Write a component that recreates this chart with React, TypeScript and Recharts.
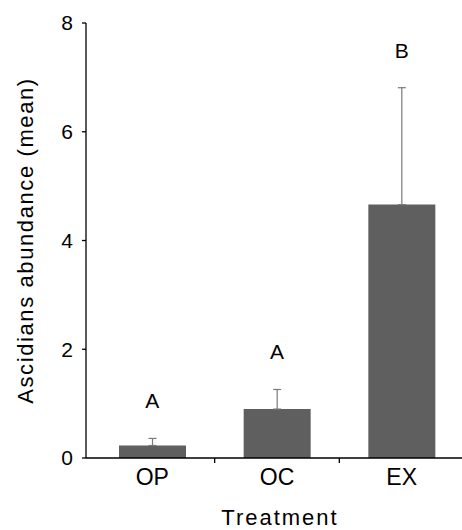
import React from "react";
import {
  XAxis,
  YAxis,
  Bar,
  ErrorBar,
  Line,
  LabelList,
  Label,
  ComposedChart,
} from "recharts";

const treatments = ["OP", "OC", "EX"];
const means = [0.23, 0.9, 4.66];
const errors = [0.13, 0.36, 2.15];
const letters = ["A", "A", "B"];
const yTicks = [0, 2, 4, 6, 8];

const data = treatments.map((t, i) => ({
  treatment: t,
  mean: means[i],
  err: [0, errors[i]],
  top: means[i] + errors[i],
  letter: letters[i],
}));

const FONT = "'Liberation Sans', Arial, sans-serif";
const TICK_SIZE = 6;
const TICK_MARGIN = 5;

// category label plus a small separator tick at the left edge of each band (except the first)
const CategoryTick = (props: any) => {
  const { x, y, payload, index, width, padding, visibleTicksCount } = props;
  const axisY = y - TICK_SIZE - TICK_MARGIN;
  const padL = padding?.left ?? 0;
  const padR = padding?.right ?? 0;
  const halfBand = (width - padL - padR) / (2 * visibleTicksCount);
  return (
    <g>
      {index > 0 && (
        <line
          x1={x - halfBand}
          x2={x - halfBand}
          y1={axisY}
          y2={axisY + 5}
          stroke="#000"
          strokeWidth={1.3}
        />
      )}
      <text
        x={x}
        y={y}
        dy="0.71em"
        textAnchor="middle"
        fontSize={23}
        fontFamily={FONT}
        fill="#000"
      >
        {payload.value}
      </text>
    </g>
  );
};

export default function App() {
  return (
    <div
      style={{
        position: "absolute",
        left: 0,
        top: 0,
        width: 462,
        height: 530,
        overflow: "hidden",
        background: "#fff",
        fontFamily: FONT,
      }}
    >
      <ComposedChart
        width={464}
        height={530}
        data={data}
        margin={{ top: 23, right: 0, bottom: 0, left: 36 }}
      >
        <XAxis
          dataKey="treatment"
          padding={{ left: 4, right: 0 }}
          axisLine={{ stroke: "#000", strokeWidth: 1.3 }}
          tickLine={false}
          tickSize={TICK_SIZE}
          tickMargin={TICK_MARGIN}
          height={72}
          tick={<CategoryTick />}
        >
          <Label
            content={({ viewBox }: any) => (
              <text
                x={viewBox.x + viewBox.width / 2 + 5}
                y={525}
                textAnchor="middle"
                fontSize={22}
                letterSpacing={2}
                fontFamily={FONT}
                fill="#000"
              >
                Treatment
              </text>
            )}
          />
        </XAxis>
        <YAxis
          domain={[0, 8]}
          ticks={yTicks}
          width={50}
          axisLine={{ stroke: "#000", strokeWidth: 1.3 }}
          tickLine={{ stroke: "#000", strokeWidth: 1.3 }}
          tickSize={4}
          tickMargin={9}
          tick={{ fontSize: 21, fill: "#000", fontFamily: FONT }}
        >
          <Label
            content={({ viewBox }: any) => {
              const cx = 33;
              const cy = viewBox.y + viewBox.height / 2;
              return (
                <text
                  x={cx}
                  y={cy}
                  transform={`rotate(-90 ${cx} ${cy})`}
                  textAnchor="middle"
                  fontSize={22}
                  letterSpacing={1.6}
                  fontFamily={FONT}
                  fill="#000"
                >
                  Ascidians abundance (mean)
                </text>
              );
            }}
          />
        </YAxis>
        <Bar
          dataKey="mean"
          fill="#5f5f5f"
          barSize={67}
          isAnimationActive={false}
        >
          <ErrorBar
            dataKey="err"
            width={4}
            stroke="#7a7a7a"
            strokeWidth={1.2}
            direction="y"
          />
        </Bar>
        <Line
          dataKey="top"
          stroke="none"
          dot={false}
          activeDot={false}
          isAnimationActive={false}
        >
          <LabelList
            dataKey="letter"
            position="top"
            offset={30}
            fontSize={21}
            fill="#000"
            fontFamily={FONT}
          />
        </Line>
      </ComposedChart>
    </div>
  );
}
